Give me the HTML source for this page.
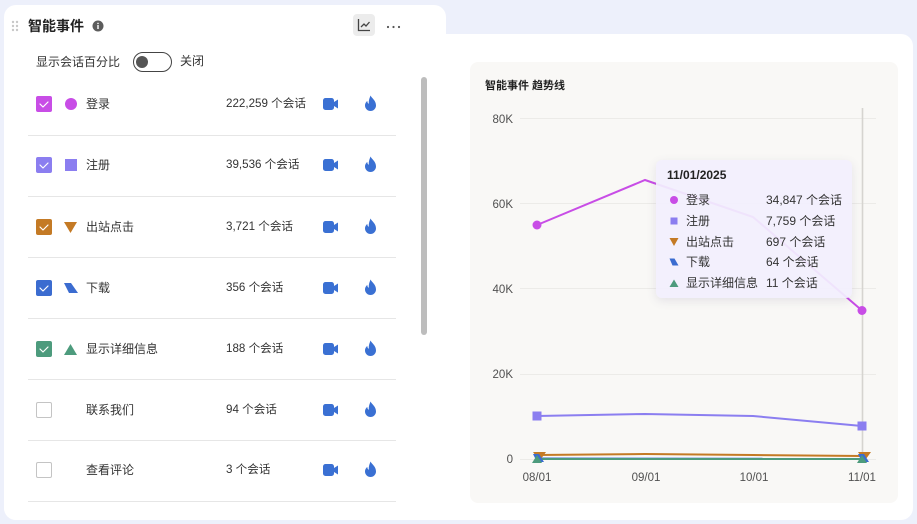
<!DOCTYPE html>
<html><head><meta charset="utf-8"><style>
*{margin:0;padding:0;box-sizing:border-box}
body{width:917px;height:524px;background:#edf0fb;position:relative;overflow:hidden;font-family:"Liberation Sans","Noto Sans CJK SC",sans-serif;color:#333}
.a{position:absolute}
.card1{left:4px;top:5px;width:442px;height:515px;background:#fff;border-radius:12px}
.card2{left:4px;top:34px;width:909px;height:486px;background:#fff;border-radius:12px}
.t{position:absolute;white-space:nowrap;font-size:12px;line-height:14px}
.row .t{transform:translateY(-7px)}
.row .n{font-size:11.6px}
.cb{position:absolute;left:36px;width:16px;height:16px;border-radius:2px;transform:translateY(-8px)}
.sep{position:absolute;left:28px;width:368px;height:1px;background:#e6e6e6}
</style></head><body>
<div class="a card2"></div>
<div class="a card1"></div>

<!-- header -->
<svg class="a" style="left:10px;top:19px" width="10" height="14"><g fill="#c8c8c8"><circle cx="3" cy="3" r="1.2"/><circle cx="7" cy="3" r="1.2"/><circle cx="3" cy="7" r="1.2"/><circle cx="7" cy="7" r="1.2"/><circle cx="3" cy="11" r="1.2"/><circle cx="7" cy="11" r="1.2"/></g></svg>
<div class="t" style="left:28px;top:17px;font-size:14px;line-height:18px;font-weight:bold;color:#222">智能事件</div>
<svg class="a" style="left:92px;top:20px" width="12" height="12"><circle cx="6" cy="6" r="5.5" fill="#5c5c5c"/><rect x="5.3" y="5" width="1.4" height="4" fill="#fff"/><circle cx="6" cy="3.4" r="0.8" fill="#fff"/></svg>
<div class="a" style="left:353px;top:14px;width:22px;height:22px;background:#ececec;border-radius:4px"></div>
<svg class="a" style="left:357px;top:18px" width="14" height="14"><path d="M1.5 1v11.5H13" fill="none" stroke="#444" stroke-width="1.3"/><path d="M4 9l3-3 2 2 3.5-4" fill="none" stroke="#444" stroke-width="1.3"/></svg>
<svg class="a" style="left:385px;top:24px" width="18" height="6"><g fill="#555"><circle cx="3" cy="3" r="1.1"/><circle cx="8.5" cy="3" r="1.1"/><circle cx="14" cy="3" r="1.1"/></g></svg>

<div class="t" style="left:36px;top:55px;color:#333">显示会话百分比</div>
<div class="a" style="left:133px;top:52px;width:39px;height:20px;border:1.3px solid #444;border-radius:10px"></div>
<div class="a" style="left:136px;top:56px;width:12px;height:12px;border-radius:50%;background:#555"></div>
<div class="t" style="left:180px;top:54px;color:#333">关闭</div>

<!-- scrollbar -->
<div class="a" style="left:421px;top:77px;width:6px;height:258px;background:#bdbdbd;border-radius:3px"></div>

<!-- rows -->
<div class="row">
<div class="cb" style="top:104px;background:#c84de6"></div>
<div class="cb" style="top:165px;background:#8b7ef0"></div>
<div class="cb" style="top:227px;background:#c47a25"></div>
<div class="cb" style="top:288px;background:#3b6cd0"></div>
<div class="cb" style="top:349px;background:#4d9b7d"></div>
<div class="cb" style="top:410px;border:1px solid #c4c4c4;background:#fff"></div>
<div class="cb" style="top:470px;border:1px solid #c4c4c4;background:#fff"></div>
</div>
<svg class="a" style="left:0;top:0" width="420" height="524">
<g fill="none" stroke="#fff" stroke-width="1.2" stroke-linecap="round" stroke-linejoin="round">
<path d="M40 104l3 3 5-5"/><path d="M40 165l3 3 5-5"/><path d="M40 227l3 3 5-5"/><path d="M40 288l3 3 5-5"/><path d="M40 349l3 3 5-5"/>
</g>
<circle cx="71" cy="104" r="6" fill="#c84de6"/>
<rect x="65" y="159" width="12" height="12" fill="#8b7ef0"/>
<path d="M64 222h13l-6.5 11z" fill="#c47a25"/>
<path d="M64 283h7l7 10h-9z" fill="#3b6cd0"/>
<path d="M64 355h13l-6.5-11z" fill="#4d9b7d"/>
<g fill="#3a70d3">
<g id="ic"><rect x="323" y="98" width="11" height="12" rx="2.5"/><path d="M334 102l4-2.5v9l-4-2.5z"/><path d="M370.5 95.5c1.5 3 5.5 5 5.5 10a5.5 5.5 0 0 1-11 0c0-2.2 1.2-3.6 2.3-4.6 0 1.6 0.6 2.6 1.6 2.8-0.5-3.2 0.8-5.8 1.6-8.2z"/></g>
<use href="#ic" y="61"/><use href="#ic" y="123"/><use href="#ic" y="184"/><use href="#ic" y="245"/><use href="#ic" y="306"/><use href="#ic" y="366"/>
</g>
</svg>
<div class="row">
<div class="t" style="left:86px;top:104px">登录</div>
<div class="t" style="left:86px;top:165px">注册</div>
<div class="t" style="left:86px;top:227px">出站点击</div>
<div class="t" style="left:86px;top:288px">下载</div>
<div class="t" style="left:86px;top:349px">显示详细信息</div>
<div class="t" style="left:86px;top:410px">联系我们</div>
<div class="t" style="left:86px;top:470px">查看评论</div>
<div class="t n" style="left:226px;top:104px">222,259 个会话</div>
<div class="t n" style="left:226px;top:165px">39,536 个会话</div>
<div class="t n" style="left:226px;top:227px">3,721 个会话</div>
<div class="t n" style="left:226px;top:288px">356 个会话</div>
<div class="t n" style="left:226px;top:349px">188 个会话</div>
<div class="t n" style="left:226px;top:410px">94 个会话</div>
<div class="t n" style="left:226px;top:470px">3 个会话</div>
</div>
<div class="sep" style="top:135px"></div>
<div class="sep" style="top:196px"></div>
<div class="sep" style="top:257px"></div>
<div class="sep" style="top:318px"></div>
<div class="sep" style="top:379px"></div>
<div class="sep" style="top:440px"></div>
<div class="sep" style="top:501px"></div>

<!-- chart panel -->
<div class="a" style="left:470px;top:62px;width:428px;height:441px;background:#f9f8f6;border-radius:8px"></div>
<div class="t" style="left:485px;top:79px;font-size:11px;font-weight:bold;color:#222">智能事件 趋势线</div>
<svg class="a" style="left:0;top:0" width="917" height="524" font-family="Liberation Sans, Noto Sans CJK SC, sans-serif" font-size="11.5" fill="#505050">
<g stroke="#ecebe8" stroke-width="1">
<line x1="520" y1="118.5" x2="876" y2="118.5"/><line x1="520" y1="203.5" x2="876" y2="203.5"/><line x1="520" y1="288.5" x2="876" y2="288.5"/><line x1="520" y1="374.5" x2="876" y2="374.5"/><line x1="520" y1="459.5" x2="876" y2="459.5"/>
</g>
<g text-anchor="end"><text x="513" y="123">80K</text><text x="513" y="208">60K</text><text x="513" y="293">40K</text><text x="513" y="378">20K</text><text x="513" y="463">0</text></g>
<g text-anchor="middle"><text x="537" y="481">08/01</text><text x="646" y="481">09/01</text><text x="754" y="481">10/01</text><text x="862" y="481">11/01</text></g>
<line x1="862.5" y1="108" x2="862.5" y2="460" stroke="#d6d4d0" stroke-width="1.6"/>
<polyline points="537,225 645,180 753,217 862,310.5" fill="none" stroke="#c84de6" stroke-width="2"/>
<circle cx="537" cy="225" r="4.5" fill="#c84de6"/><circle cx="862" cy="310.5" r="4.5" fill="#c84de6"/>
<polyline points="537,416 645,414 753,416 862,426" fill="none" stroke="#8b7ef0" stroke-width="2"/>
<rect x="532.5" y="411.5" width="9" height="9" fill="#8b7ef0"/><rect x="857.5" y="421.5" width="9" height="9" fill="#8b7ef0"/>
<polyline points="537,455 645,454 753,455 862,456" fill="none" stroke="#c47a25" stroke-width="2"/>
<polyline points="537,458.5 862,458.8" fill="none" stroke="#3b6cd0" stroke-width="2"/>
<polyline points="537,459 862,459" fill="none" stroke="#4d9b7d" stroke-width="2"/>
<path d="M533 452h13l-6.5 9z" fill="#c47a25"/><path d="M858 452h13l-6.5 9z" fill="#c47a25"/>
<path d="M533 454h6l5 8h-7z" fill="#3b6cd0"/><path d="M858 454h6l5 8h-7z" fill="#3b6cd0"/>
<path d="M532 463h10l-5-8z" fill="#4d9b7d"/><path d="M857 463h10l-5-8z" fill="#4d9b7d"/>
</svg>

<!-- tooltip -->
<div class="a" style="left:656px;top:160px;width:196px;height:138px;background:rgba(242,239,253,0.93);border-radius:6px;box-shadow:0 3px 10px rgba(80,70,120,0.12)"></div>
<div class="t" style="left:667px;top:168px;font-size:12px;font-weight:bold;color:#222">11/01/2025</div>
<svg class="a" style="left:668px;top:193px" width="14" height="100">
<circle cx="6" cy="7" r="4" fill="#c84de6"/>
<rect x="2.5" y="24.5" width="7" height="7" fill="#8b7ef0"/>
<path d="M1.5 45h9l-4.5 8z" fill="#c47a25"/>
<path d="M1.5 65.5h5l4 7h-6z" fill="#3b6cd0"/>
<path d="M1.5 94h9l-4.5-7.5z" fill="#4d9b7d"/>
</svg>
<div class="t" style="left:686px;top:193px">登录</div>
<div class="t" style="left:686px;top:214px">注册</div>
<div class="t" style="left:686px;top:235px">出站点击</div>
<div class="t" style="left:686px;top:255px">下载</div>
<div class="t" style="left:686px;top:276px">显示详细信息</div>
<div class="t" style="left:766px;top:193px">34,847 个会话</div>
<div class="t" style="left:766px;top:214px">7,759 个会话</div>
<div class="t" style="left:766px;top:235px">697 个会话</div>
<div class="t" style="left:766px;top:255px">64 个会话</div>
<div class="t" style="left:766px;top:276px">11 个会话</div>
</body></html>
